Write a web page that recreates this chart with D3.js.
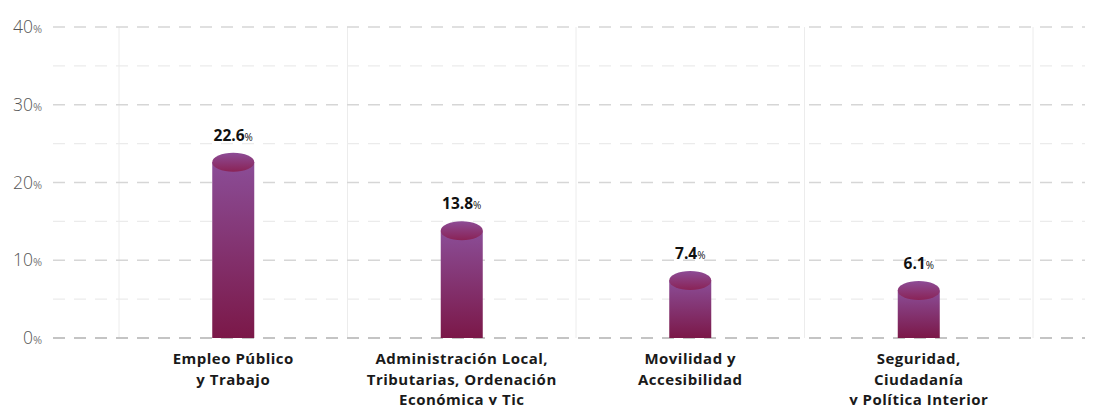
<!DOCTYPE html>
<html>
<head>
<meta charset="utf-8">
<script src="https://cdn.jsdelivr.net/npm/d3@7"></script>
<style>
  body { margin: 0; background: #fff; }
  text { font-family: "Open Sans", "Noto Sans", sans-serif; }
</style>
</head>
<body>
<div id="chart-area"></div>
<script>
// chart data
const categories = [
  ["Empleo Público", "y Trabajo"],
  ["Administración Local,", "Tributarias, Ordenación", "Económica y Tic"],
  ["Movilidad y", "Accesibilidad"],
  ["Seguridad,", "Ciudadanía", "y Política Interior"]
];
const values = [22.6, 13.8, 7.4, 6.1];
const majorTicks = [0, 10, 20, 30, 40];
const minorTicks = [5, 15, 25, 35];

const width = 1093, height = 405;

const svg = d3.select("#chart-area").append("svg")
    .attr("width", width)
    .attr("height", height);

const y = d3.scaleLinear().domain([0, 40]).range([338, 27]);
const x = d3.scaleBand().domain(d3.range(categories.length)).range([119, 1033]).padding(0);

// gradients
const defs = svg.append("defs");
const body = defs.append("linearGradient").attr("id", "bodyGrad")
    .attr("x1", 0).attr("y1", 0).attr("x2", 0).attr("y2", 1);
body.append("stop").attr("offset", "0%").attr("stop-color", "#8b4d97");
body.append("stop").attr("offset", "100%").attr("stop-color", "#7b1848");
const cap = defs.append("linearGradient").attr("id", "capGrad")
    .attr("x1", 0).attr("y1", 0).attr("x2", 0).attr("y2", 1);
cap.append("stop").attr("offset", "0%").attr("stop-color", "#8d4c96");
cap.append("stop").attr("offset", "100%").attr("stop-color", "#8a2356");

// grid lines
svg.selectAll(".minor").data(minorTicks).enter().append("line")
    .attr("x1", 53).attr("x2", 1085)
    .attr("y1", d => y(d)).attr("y2", d => y(d))
    .attr("stroke", "#ebebeb").attr("stroke-width", 1.2)
    .attr("stroke-dasharray", "12,9");

svg.selectAll(".vline").data(d3.range(categories.length + 1)).enter().append("line")
    .attr("x1", d => 119 + d * x.bandwidth()).attr("x2", d => 119 + d * x.bandwidth())
    .attr("y1", y(40)).attr("y2", y(0))
    .attr("stroke", "#ececec").attr("stroke-width", 1);

svg.selectAll(".major").data(majorTicks).enter().append("line")
    .attr("x1", 53).attr("x2", 1085)
    .attr("y1", d => y(d)).attr("y2", d => y(d))
    .attr("stroke", d => d === 0 ? "#c4c4c4" : "#d6d6d6")
    .attr("stroke-width", d => d === 0 ? 2 : 1.4)
    .attr("stroke-dasharray", "12,9");

// y tick labels
const yl = svg.selectAll(".ylab").data(majorTicks).enter().append("text")
    .attr("x", 42).attr("y", d => y(d) + 6)
    .attr("text-anchor", "end")
    .attr("fill", "#555");
yl.append("tspan").attr("font-size", 17.5).attr("font-weight", 300).text(d => d);
yl.append("tspan").attr("font-size", 11).attr("fill", "#777").text("%");

// bars
const bw = 42, ry = 9.5;
const g = svg.selectAll(".bar").data(values).enter().append("g");
g.append("rect")
    .attr("x", (d, i) => x(i) + x.bandwidth() / 2 - bw / 2)
    .attr("y", d => y(d))
    .attr("width", bw)
    .attr("height", d => y(0) - y(d))
    .attr("fill", "url(#bodyGrad)");
g.append("ellipse")
    .attr("cx", (d, i) => x(i) + x.bandwidth() / 2)
    .attr("cy", d => y(d))
    .attr("rx", bw / 2)
    .attr("ry", ry)
    .attr("fill", "url(#capGrad)");

// value labels
const vl = svg.selectAll(".val").data(values).enter().append("text")
    .attr("x", (d, i) => x(i) + x.bandwidth() / 2)
    .attr("y", d => y(d) - ry - 12)
    .attr("text-anchor", "middle")
    .attr("fill", "#111");
vl.append("tspan").attr("font-size", 15.5).attr("font-weight", 700).text(d => d.toFixed(1));
vl.append("tspan").attr("font-size", 10).attr("font-weight", 400).text("%");

// category labels
const cl = svg.selectAll(".cat").data(categories).enter().append("text")
    .attr("x", (d, i) => x(i) + x.bandwidth() / 2)
    .attr("y", 364)
    .attr("text-anchor", "middle")
    .attr("font-size", 15)
    .attr("font-weight", 700)
    .attr("letter-spacing", 0.5)
    .attr("fill", "#1a1a1a");
cl.selectAll("tspan").data(d => d).enter().append("tspan")
    .attr("x", function () { return this.parentNode.getAttribute("x"); })
    .attr("dy", (d, i) => i === 0 ? 0 : 20.5)
    .text(d => d);
</script>
</body>
</html>
